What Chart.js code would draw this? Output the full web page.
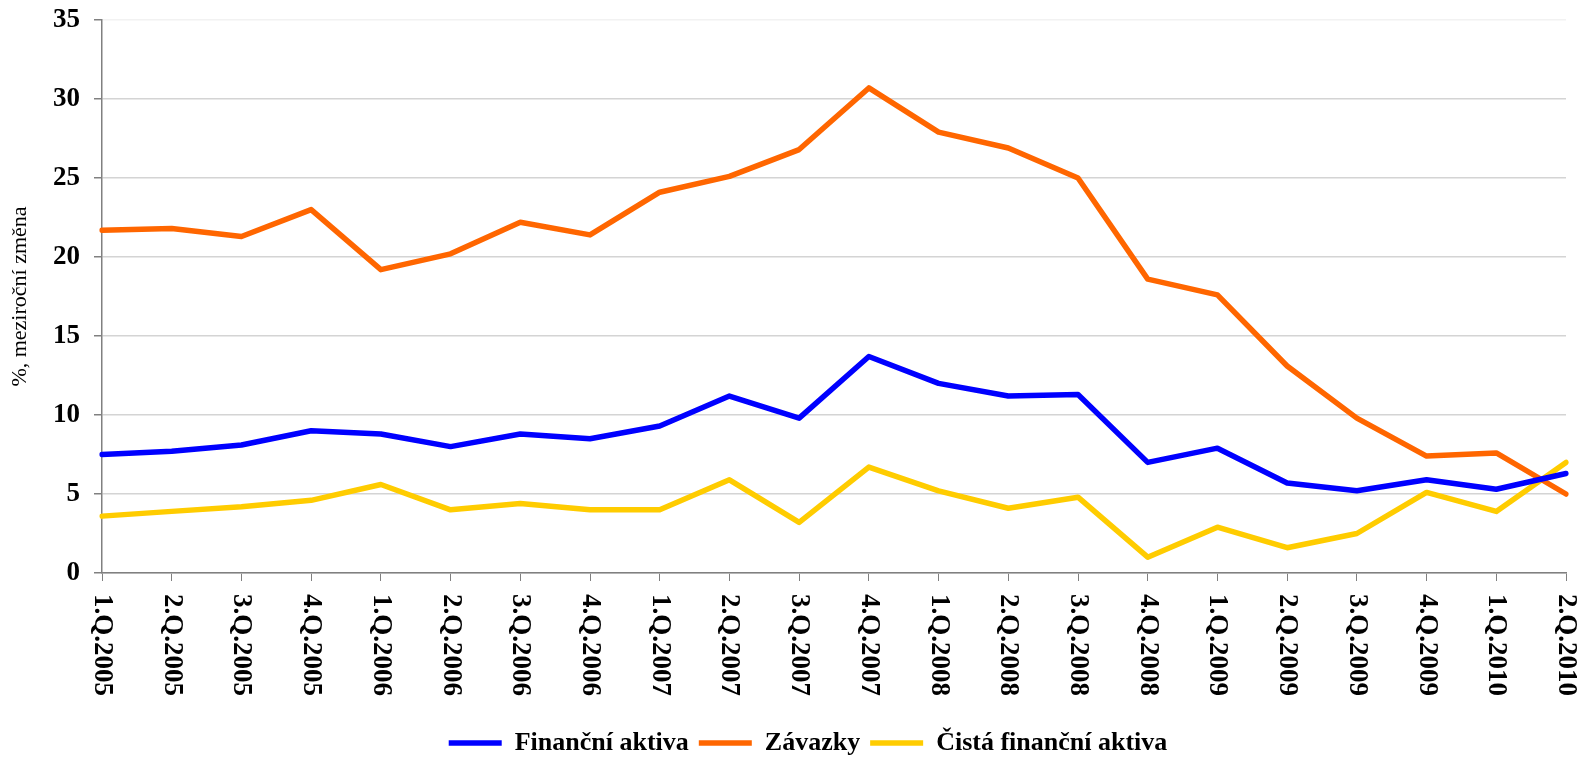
<!DOCTYPE html>
<html>
<head>
<meta charset="utf-8">
<script src="https://cdn.jsdelivr.net/npm/chart.js@4"></script>
<style>
  html, body { margin: 0; padding: 0; background: #fff; }
  #wrap { width: 1583px; height: 766px; }
</style>
</head>
<body>
<div id="wrap"><canvas id="chart"></canvas></div>
<script>
const quarters = [
  '1.Q.2005', '2.Q.2005', '3.Q.2005', '4.Q.2005',
  '1.Q.2006', '2.Q.2006', '3.Q.2006', '4.Q.2006',
  '1.Q.2007', '2.Q.2007', '3.Q.2007', '4.Q.2007',
  '1.Q.2008', '2.Q.2008', '3.Q.2008', '4.Q.2008',
  '1.Q.2009', '2.Q.2009', '3.Q.2009', '4.Q.2009',
  '1.Q.2010', '2.Q.2010',
]
const financniAktiva = [7.5, 7.7, 8.1, 9.0, 8.8, 8.0, 8.8, 8.5, 9.3, 11.2, 9.8, 13.7, 12.0, 11.2, 11.3, 7.0, 7.9, 5.7, 5.2, 5.9, 5.3, 6.3]
const zavazky = [21.7, 21.8, 21.3, 23.0, 19.2, 20.2, 22.2, 21.4, 24.1, 25.1, 26.8, 30.7, 27.9, 26.9, 25.0, 18.6, 17.6, 13.1, 9.8, 7.4, 7.6, 5.0]
const cistaAktiva = [3.6, 3.9, 4.2, 4.6, 5.6, 4.0, 4.4, 4.0, 4.0, 5.9, 3.2, 6.7, 5.2, 4.1, 4.8, 1.0, 2.9, 1.6, 2.5, 5.1, 3.9, 7.0]
const yTitle = '%, meziroční změna'

const serif = "'Liberation Serif', 'Times New Roman', serif"

// x labels read top-to-bottom in the original, so draw them rotated clockwise,
// and the y title sits at the far left edge
const extraText = {
  id: 'extraText',
  afterDraw(chart) {
    const scale = chart.scales.x
    const area = chart.chartArea
    const ctx = chart.ctx
    ctx.save()
    ctx.font = 'bold 27px ' + serif
    ctx.fillStyle = '#000'
    ctx.textAlign = 'left'
    ctx.textBaseline = 'middle'
    scale.ticks.forEach((t, i) => {
      ctx.save()
      ctx.translate(scale.getPixelForTick(i), scale.top + 21)
      ctx.rotate(Math.PI / 2)
      ctx.fillText(quarters[i], 0, 0)
      ctx.restore()
    })
    ctx.font = '22px ' + serif
    ctx.textAlign = 'center'
    ctx.translate(20, (area.top + area.bottom) / 2)
    ctx.rotate(-Math.PI / 2)
    ctx.fillText(yTitle, 0, 0)
    ctx.restore()
  },
}

function line(label, data, color) {
  return {
    label,
    data,
    borderColor: color,
    backgroundColor: color,
    borderWidth: 5.5,
    borderCapStyle: 'round',
    borderJoinStyle: 'round',
    pointRadius: 0,
    tension: 0,
  }
}

new Chart(document.getElementById('chart'), {
  type: 'line',
  data: {
    labels: quarters,
    datasets: [
      line('Finanční aktiva', financniAktiva, '#0000ff'),
      line('Závazky', zavazky, '#ff6600'),
      line('Čistá finanční aktiva', cistaAktiva, '#ffcc00'),
    ],
  },
  options: {
    responsive: true,
    maintainAspectRatio: false,
    animation: false,
    layout: { padding: { top: 20, right: 17, left: 50, bottom: 0 } },
    plugins: {
      tooltip: { enabled: false },
      legend: {
        position: 'bottom',
        labels: {
          usePointStyle: true,
          pointStyle: 'line',
          pointStyleWidth: 53,
          padding: 10,
          color: '#000',
          font: { family: serif, size: 26, weight: 'bold' },
        },
      },
    },
    scales: {
      x: {
        offset: false,
        grid: { drawOnChartArea: false, drawTicks: true, tickLength: 8, tickColor: '#808080' },
        border: { color: '#808080', width: 1.5 },
        ticks: { display: false },
        afterFit(scale) { scale.height = 147 },
      },
      y: {
        min: 0,
        max: 35,
        ticks: {
          stepSize: 5,
          padding: 14,
          color: '#000',
          font: { family: serif, size: 27, weight: 'bold' },
        },
        grid: {
          color: (c) => (c.tick && c.tick.value === 35 ? '#f2f2f2' : '#d4d4d4'),
          lineWidth: 1.5,
          tickLength: 8,
          tickColor: '#808080',
        },
        border: { color: '#808080', width: 1.5 },
        afterFit(scale) {
          scale.width = 52
          scale.paddingTop = 0
          scale.paddingBottom = 0
        },
      },
    },
  },
  plugins: [extraText],
})
</script>
</body>
</html>
